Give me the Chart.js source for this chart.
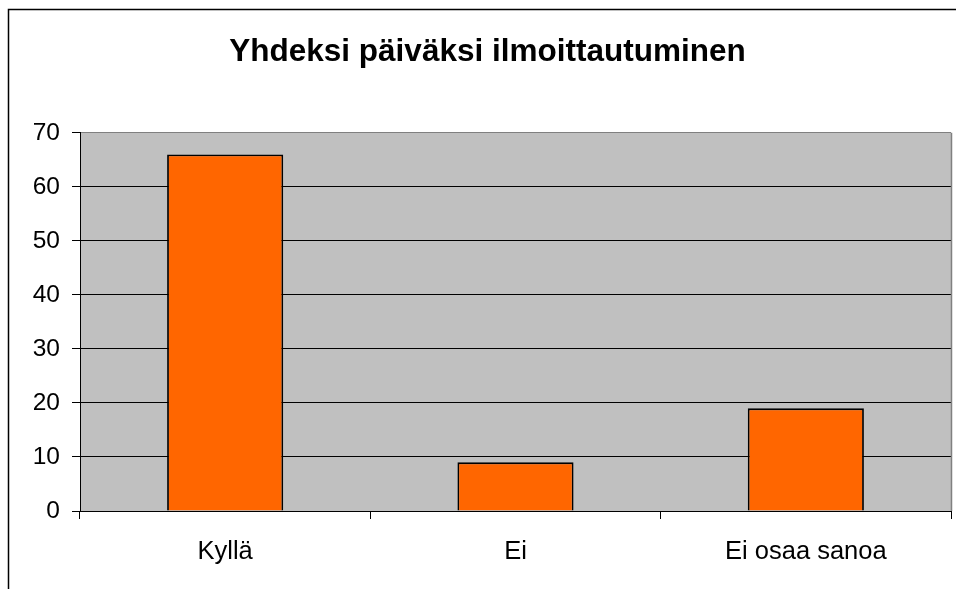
<!DOCTYPE html>
<html>
<head>
<meta charset="utf-8">
<script src="https://cdn.jsdelivr.net/npm/chart.js@4/dist/chart.umd.min.js"></script>
<style>
  body { margin: 0; background: #fff; }
  #wrap { width: 956px; height: 589px; position: relative; }
</style>
</head>
<body>
<div id="wrap"><canvas id="chart"></canvas></div>
<script>
const chartTitle = "Yhdeksi päiväksi ilmoittautuminen";
const categories = ["Kyllä", "Ei", "Ei osaa sanoa"];
const answers = [66, 9, 19];
const yTicks = [0, 10, 20, 30, 40, 50, 60, 70];

const fontFamily = "'Liberation Sans', Arial, sans-serif";

// gray plot background + outer frame
const plotBackground = {
  id: "plotBackground",
  beforeDraw(chart) {
    const { ctx, chartArea } = chart;
    ctx.save();
    ctx.fillStyle = "#c0c0c0";
    ctx.fillRect(chartArea.left, chartArea.top,
      chartArea.right - chartArea.left, chartArea.bottom - chartArea.top);
    ctx.strokeStyle = "#000";
    ctx.lineWidth = 1.5;
    ctx.beginPath();
    ctx.moveTo(8.5, chart.height);
    ctx.lineTo(8.5, 9.5);
    ctx.lineTo(chart.width, 9.5);
    ctx.stroke();
    ctx.restore();
  },
  beforeDatasetsDraw(chart) {
    const { ctx, chartArea } = chart;
    ctx.save();
    ctx.strokeStyle = "#808080";
    ctx.lineWidth = 1.5;
    ctx.beginPath();
    ctx.moveTo(chartArea.right + 0.5, chartArea.top);
    ctx.lineTo(chartArea.right + 0.5, chartArea.bottom);
    ctx.stroke();
    ctx.restore();
  },
};

new Chart(document.getElementById("chart"), {
  type: "bar",
  data: {
    labels: categories,
    datasets: [
      {
        data: answers,
        backgroundColor: "#ff6600",
        borderColor: "#000",
        borderWidth: 1.8,
        categoryPercentage: 1,
        barPercentage: 0.4,
      },
    ],
  },
  options: {
    responsive: true,
    maintainAspectRatio: false,
    animation: false,
    layout: {
      padding: { left: 24, right: 5, top: 0, bottom: 0 },
    },
    plugins: {
      legend: { display: false },
      tooltip: { enabled: false },
      title: {
        display: true,
        text: chartTitle,
        color: "#000",
        font: { family: fontFamily, size: 31.5, weight: "bold" },
        padding: { top: 33, bottom: 62 },
      },
    },
    scales: {
      x: {
        offset: true,
        afterFit(scale) {
          scale.height = 78;
        },
        grid: {
          offset: true,
          drawOnChartArea: false,
          drawTicks: true,
          tickLength: 8,
          color: "#000",
        },
        border: { display: true, color: "#000" },
        ticks: {
          color: "#000",
          padding: 18,
          font: { family: fontFamily, size: 25.5 },
        },
      },
      y: {
        min: 0,
        max: 70,
        afterFit(scale) {
          scale.width = 56;
        },
        afterBuildTicks(scale) {
          scale.ticks = yTicks.map((v) => ({ value: v }));
        },
        grid: {
          color: (ctx) => (ctx.tick && ctx.tick.value === 70 ? "#808080" : "#000"),
          tickColor: "#000",
          tickLength: 8,
        },
        border: { display: true, color: "#000" },
        ticks: {
          color: "#000",
          padding: 12,
          font: { family: fontFamily, size: 24.5 },
        },
      },
    },
  },
  plugins: [plotBackground],
});
</script>
</body>
</html>
